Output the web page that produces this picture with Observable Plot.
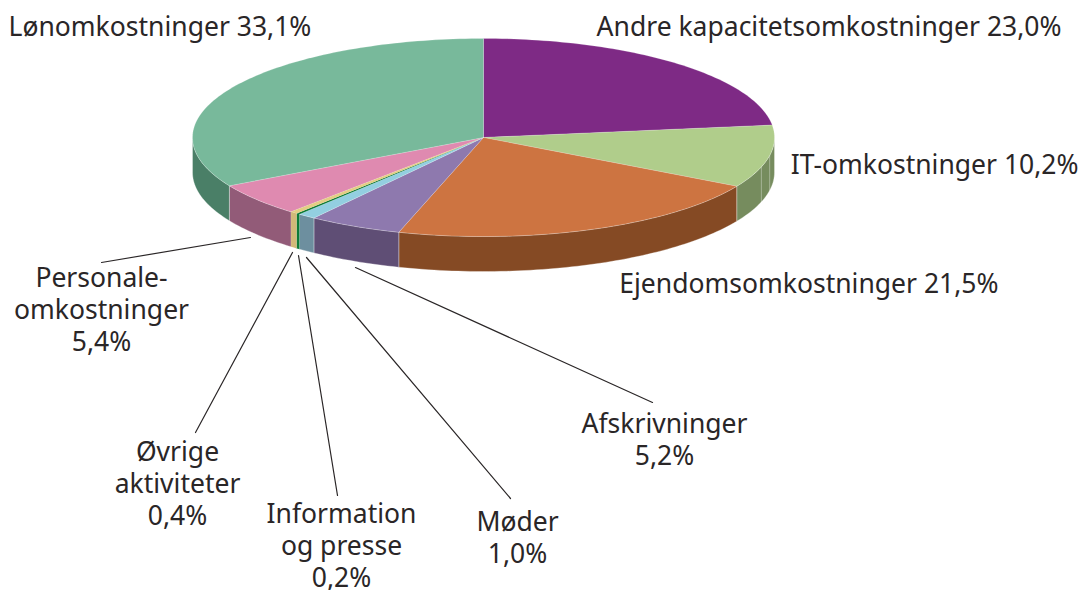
<!DOCTYPE html>
<html lang="da">
<head>
<meta charset="utf-8">
<script src="https://cdn.jsdelivr.net/npm/d3@7"></script>
<script src="https://cdn.jsdelivr.net/npm/@observablehq/plot@0.6"></script>
<style>
  html, body { margin: 0; padding: 0; background: #fff; }
  svg { display: block; }
</style>
</head>
<body>
<div id="chart"></div>
<script>
// Data, clockwise from the top of the pie
const categories = ["Andre kapacitetsomkostninger", "IT-omkostninger", "Ejendomsomkostninger", "Afskrivninger", "Møder", "Information og presse", "Øvrige aktiviteter", "Personaleomkostninger", "Lønomkostninger"];
const shares = [23.0, 10.2, 21.5, 5.2, 1.0, 0.2, 0.4, 5.4, 33.1];
const topColors = ["#7e2a85", "#b0cd8b", "#cd7441", "#8e79ae", "#93cfe0", "#0f7b38", "#e3cd84", "#df8ab0", "#78b99b"];
const sideColors = ["#4f1a54", "#768c5e", "#854a24", "#5f4e75", "#6d8f9f", "#0f7b38", "#d2b978", "#925b78", "#4a7f67"];
const labelTexts = ["Andre kapacitetsomkostninger 23,0%", "IT-omkostninger 10,2%", "Ejendomsomkostninger 21,5%", "Afskrivninger\n5,2%", "Møder\n1,0%", "Information\nog presse\n0,2%", "Øvrige\naktiviteter\n0,4%", "Personale-\nomkostninger\n5,4%", "Lønomkostninger 33,1%"];
// Facet seams on the IT side wall, in cumulative percent
const sideSeams = [27.9, 29.8];

// Layout (separate from the data)
const cx = 483, cy = 137, rx = 291, ry = 99, depth = 35;
const labelX = [1061, 1078, 998, 664, 517, 341, 177, 101, 8];
const labelY = [25, 163, 282, 438, 536, 544, 482, 308, 25];
const labelAnchor = ["end", "end", "end", "middle", "middle", "middle", "middle", "middle", "start"];
const leaderFrom = [[355, 267], [306, 257], [298, 255], [292, 252], [250, 237]];
const leaderTo = [[652, 402], [510, 498], [337, 495], [195, 432], [101, 262]];

const pt = (pct, dz = 0) => {
  const a = pct / 100 * 2 * Math.PI;
  return { x: cx + rx * Math.sin(a), y: cy - ry * Math.cos(a) + dz };
};
const arc = (p0, p1, dz = 0) => {
  const n = Math.max(2, Math.ceil(Math.abs(p1 - p0) * 3));
  return d3.range(n + 1).map(i => pt(p0 + (p1 - p0) * i / n, dz));
};

let acc = 0;
const slices = categories.map((name, i) => {
  const s = { name, share: shares[i], start: acc, end: acc + shares[i], top: topColors[i], side: sideColors[i] };
  acc += shares[i];
  return s;
});

const topPts = slices.flatMap(s => {
  const c = { x: cx, y: cy };
  return [c, ...arc(s.start, s.end), c].map(p => ({ ...p, k: s.name, c: s.top, share: s.share }));
});
// Only the front half of the rim (25%–75%) is visible
const sidePts = slices.flatMap(s => {
  const a = Math.max(s.start, 25), b = Math.min(s.end, 75);
  if (b <= a) return [];
  const up = arc(a, b), down = arc(b, a, depth);
  return [...up, ...down, up[0]].map(p => ({ ...p, k: s.name, c: s.side, share: s.share }));
});
const seamPts = sideSeams.flatMap(p => [pt(p), pt(p, depth)].map(q => ({ ...q, k: p })));
const leaderPts = leaderFrom.flatMap((f, i) => [
  { x: f[0], y: f[1], k: i }, { x: leaderTo[i][0], y: leaderTo[i][1], k: i }
]);
const labels = labelTexts.map((t, i) => ({ t, x: labelX[i], y: labelY[i], a: labelAnchor[i] }));

const textMark = a => Plot.text(labels.filter(d => d.a === a), {
  x: "x", y: "y", text: "t", textAnchor: a, lineHeight: 1.21, fill: "#2a2627"
});
const isThin = d => d.share < 1;
const isWide = d => d.share >= 1;

const chart = Plot.plot({
  width: 1081, height: 590,
  marginTop: 0, marginRight: 0, marginBottom: 0, marginLeft: 0,
  x: { domain: [0, 1081], range: [0, 1081], axis: null },
  y: { domain: [0, 590], range: [0, 590], axis: null },
  color: { type: "identity" },
  style: { fontFamily: "'Noto Sans', sans-serif", fontSize: "26.5px", background: "#fff" },
  marks: [
    Plot.line(sidePts.filter(isWide), { x: "x", y: "y", z: "k", fill: "c", stroke: "#ffffff", strokeOpacity: 0.4, strokeWidth: 0.8 }),
    Plot.line(sidePts.filter(isThin), { x: "x", y: "y", z: "k", fill: "c", stroke: "none" }),
    Plot.line(seamPts, { x: "x", y: "y", z: "k", stroke: "#ffffff", strokeOpacity: 0.35, strokeWidth: 1 }),
    Plot.line(topPts.filter(isWide), { x: "x", y: "y", z: "k", fill: "c", stroke: "#ffffff", strokeOpacity: 0.3, strokeWidth: 0.6 }),
    Plot.line(topPts.filter(isThin), { x: "x", y: "y", z: "k", fill: "c", stroke: "none" }),
    Plot.line(leaderPts, { x: "x", y: "y", z: "k", stroke: "#2a2627", strokeWidth: 1.2 }),
    textMark("start"), textMark("middle"), textMark("end")
  ]
});
document.getElementById("chart").appendChild(chart);
</script>
</body>
</html>
